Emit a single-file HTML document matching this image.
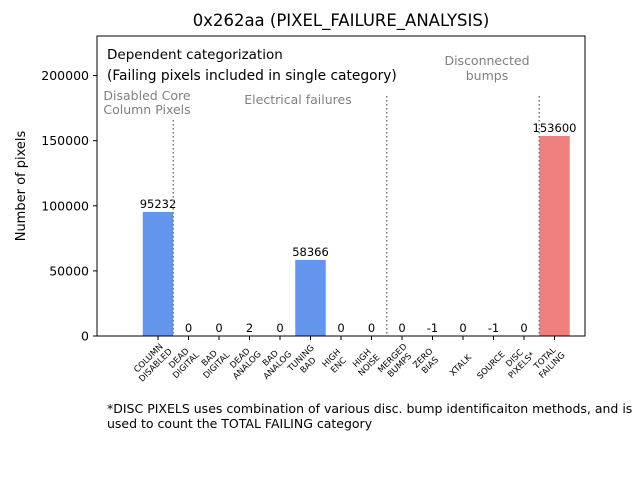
<!DOCTYPE html>
<html><head><meta charset="utf-8"><style>body{margin:0;background:#fff}svg{font-family:"DejaVu Sans","Liberation Sans",sans-serif}</style></head>
<body>
<svg id="c" width="640" height="480"></svg>
<script>
const categories=[["COLUMN","DISABLED"],["DEAD","DIGITAL"],["BAD","DIGITAL"],["DEAD","ANALOG"],["BAD","ANALOG"],["TUNING","BAD"],["HIGH","ENC"],["HIGH","NOISE"],["MERGED","BUMPS"],["ZERO","BIAS"],["XTALK"],["SOURCE"],["DISC","PIXELS*"],["TOTAL","FAILING"]];
const values=[95232,0,0,2,0,58366,0,0,0,-1,0,-1,0,153600];
const colors=["#6495ED","#6495ED","#6495ED","#6495ED","#6495ED","#6495ED","#6495ED","#6495ED","#6495ED","#6495ED","#6495ED","#6495ED","#6495ED","#F08080"];
const yTicks=[0,50000,100000,150000,200000];
const NS="http://www.w3.org/2000/svg",svg=document.getElementById('c');
const L=97,R=585,T=36,B=336,XMIN=-2,XMAX=14,YMAX=230400;
const X=v=>L+(v-XMIN)/(XMAX-XMIN)*(R-L);
const Y=v=>B-v/YMAX*(B-T);
function el(t,a,txt){const e=document.createElementNS(NS,t);for(const k in a)e.setAttribute(k,a[k]);if(txt!==undefined)e.textContent=txt;svg.appendChild(e);return e;}
let e;
e=el('text',{x:341,y:26,'text-anchor':'middle','font-size':16.5},'0x262aa (PIXEL_FAILURE_ANALYSIS)');


values.forEach((v,i)=>{
 const y0=Y(Math.max(v,0)),y1=Y(Math.min(v,0));
 e=el('rect',{x:X(i-0.5),y:y0,width:X(1)-X(0),height:Math.max(y1-y0,0),fill:colors[i]});
 
 
 e=el('text',{x:X(i),y:Y(Math.max(v,0))-4,'text-anchor':'middle','font-size':11.5},String(v));
 
 
 e=el('line',{x1:X(i),x2:X(i),y1:B,y2:B+4,stroke:'#000'});
 
 
 const g=document.createElementNS(NS,'text');
 const ax=X(i)+10,ay=B+12;
 g.setAttribute('transform',`translate(${ax},${ay}) rotate(-45)`);
 g.setAttribute('font-size',8.5);
 categories[i].forEach((s,j)=>{const t=document.createElementNS(NS,'tspan');t.setAttribute('x',0);t.setAttribute('y',j*10-(categories[i].length-1)*10+6);t.setAttribute('text-anchor','middle');t.setAttribute('dx',-21);t.textContent=s;g.appendChild(t);});
 
 
 svg.appendChild(g);
});
yTicks.forEach(v=>{
 e=el('line',{x1:L-4,x2:L,y1:Y(v),y2:Y(v),stroke:'#000'});
 
 
 e=el('text',{x:L-8,y:Y(v)+4.5,'text-anchor':'end','font-size':12.5},String(v));
 
 
});
e=el('rect',{x:L,y:T,width:R-L,height:B-T,fill:'none',stroke:'#000','stroke-width':1});


e=el('text',{x:25,y:186,'text-anchor':'middle','font-size':13,transform:'rotate(-90 25 186)'},'Number of pixels');


[[0.5,120],[7.5,96],[12.5,96]].forEach(([p,top])=>{
 e=el('line',{x1:X(p),x2:X(p),y1:top,y2:B,stroke:'#777','stroke-width':1.5,'stroke-dasharray':'1.5,2.5'});
 
 
});
function txt(x,y,s,size,fill,anchor,name){e=el('text',{x,y,'font-size':size,fill,'text-anchor':anchor},s);}
txt(107,59,'Dependent categorization',13.5,'#000','start','annotation-title');
txt(107,80,'(Failing pixels included in single category)',13.8,'#000','start','annotation-subtitle');
txt(147,100,'Disabled Core',12.5,'#808080','middle','group-label-disabled');
txt(147,114,'Column Pixels',12.5,'#808080','middle','group-label-disabled-2');
txt(298,104,'Electrical failures',12.5,'#808080','middle','group-label-electrical');
txt(487,65,'Disconnected',12.5,'#808080','middle','group-label-disconnected');
txt(487,80,'bumps',12.5,'#808080','middle','group-label-disconnected-2');
txt(107,413,'*DISC PIXELS uses combination of various disc. bump identificaiton methods, and is',12.5,'#000','start','footnote-1');
txt(107,428,'used to count the TOTAL FAILING category',12.5,'#000','start','footnote-2');
</script>
</body></html>
